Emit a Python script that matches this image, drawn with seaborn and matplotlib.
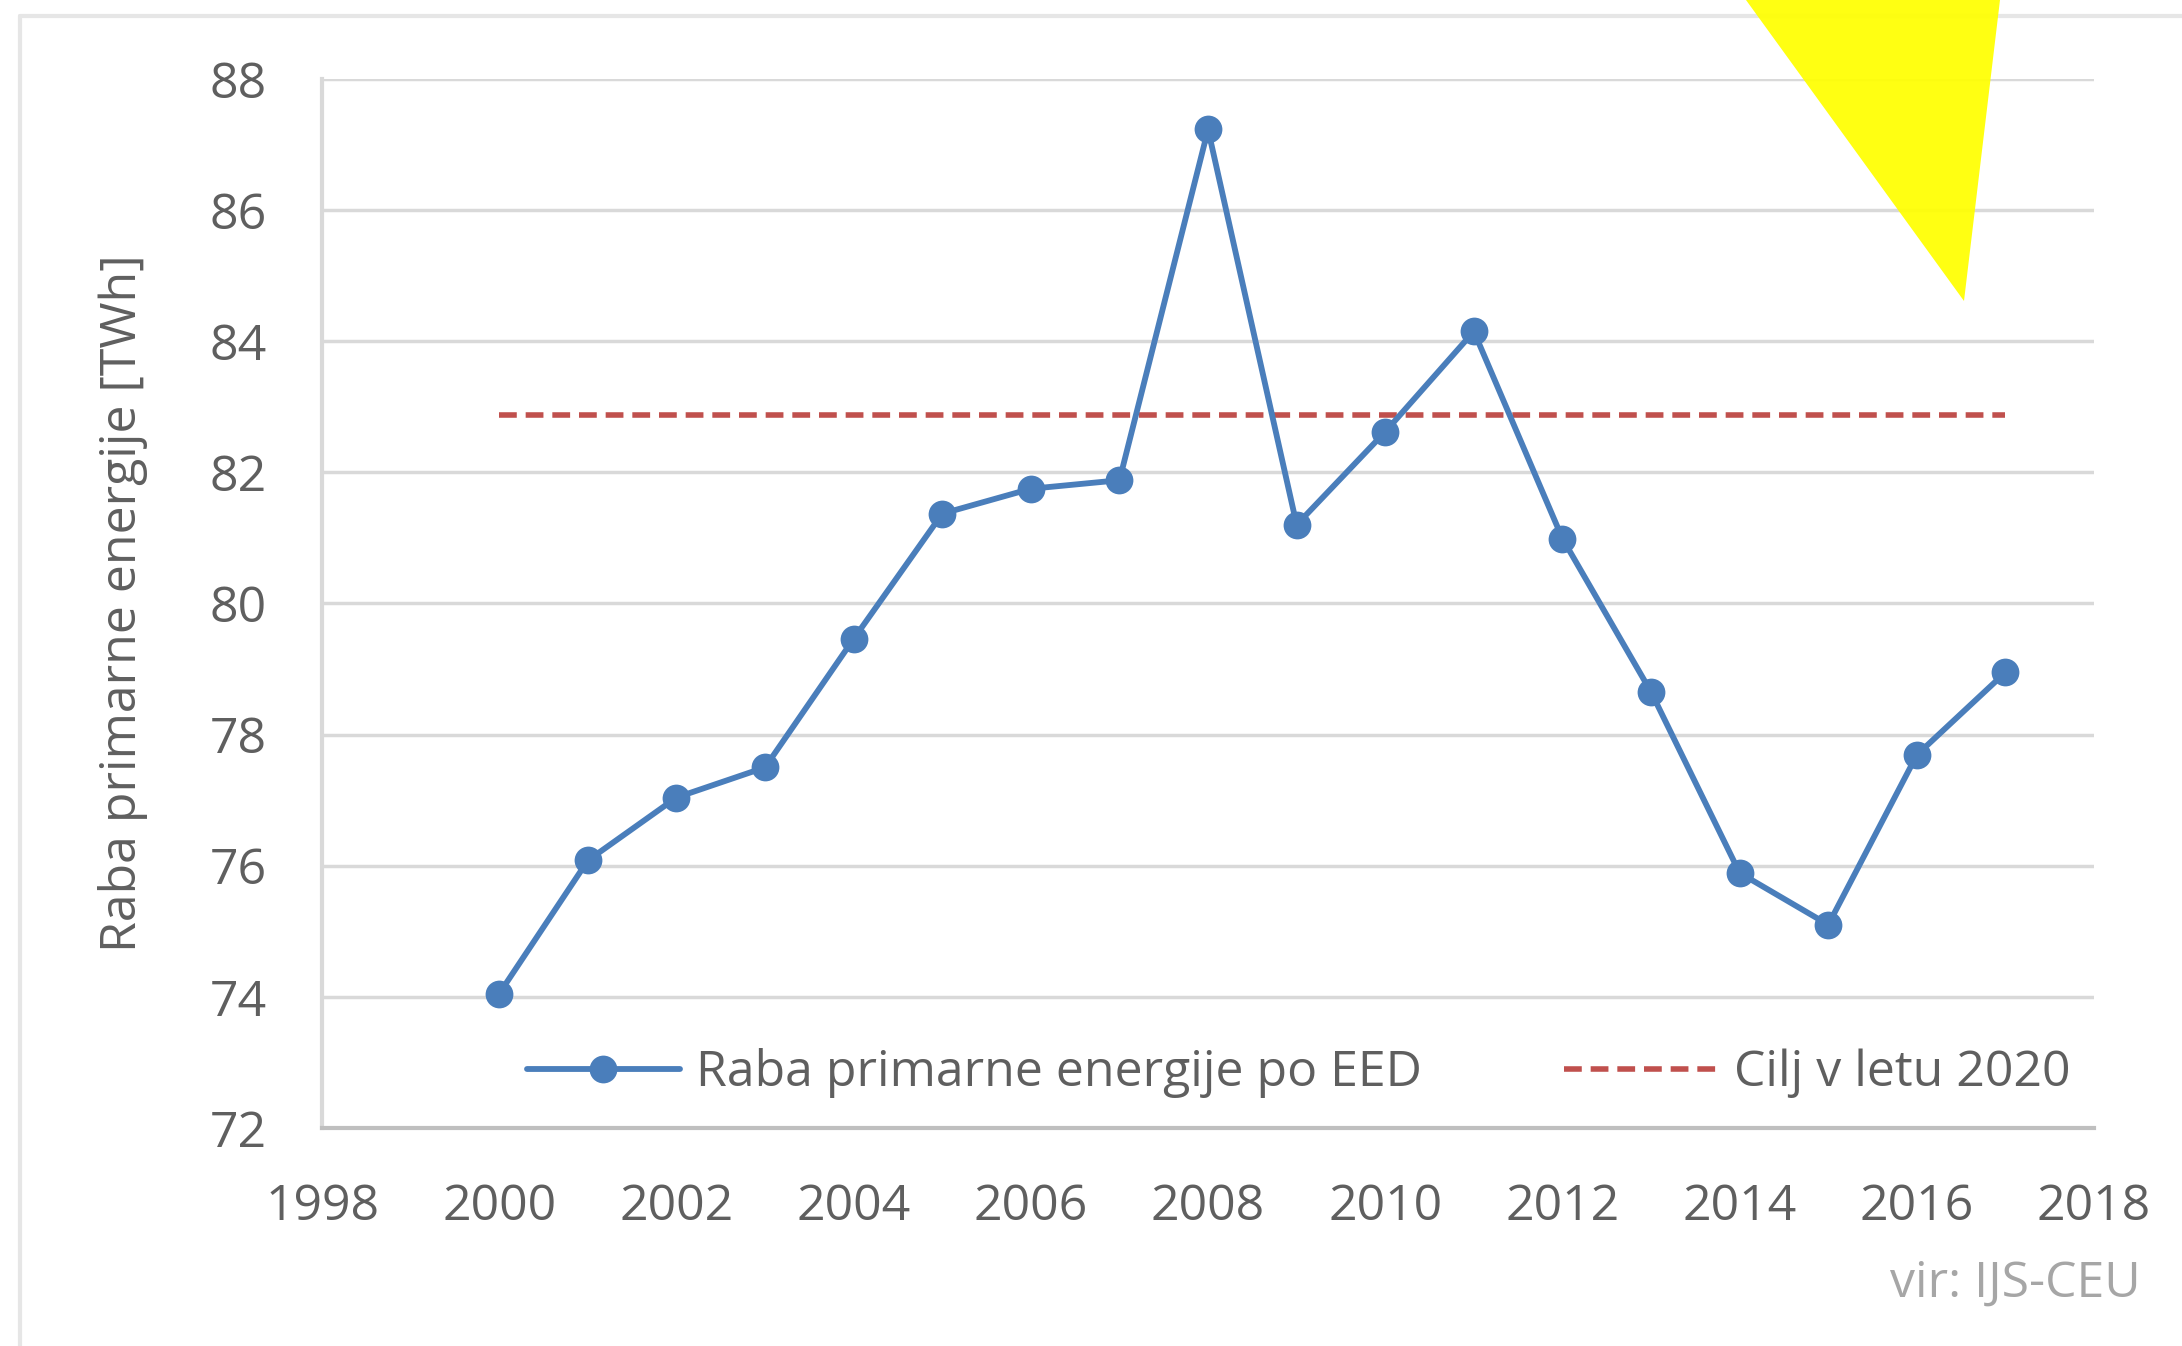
"""
plot.py
Primary energy use in Slovenia (EED) against the 2020 target.
"""

import pandas as pd
import matplotlib.pyplot as plt
from matplotlib.patches import Polygon
import seaborn as sns

# ---------------------------------------------------------
# Data
# ---------------------------------------------------------
years = [2000, 2001, 2002, 2003, 2004, 2005, 2006, 2007, 2008,
         2009, 2010, 2011, 2012, 2013, 2014, 2015, 2016, 2017]
energy_twh = [74.05, 76.08, 77.04, 77.50, 79.46, 81.37, 81.75, 81.88, 87.23,
              81.20, 82.62, 84.15, 80.99, 78.65, 75.89, 75.10, 77.69, 78.95]
target_years = [2000, 2017]
target_twh = [82.88, 82.88]

series_label = "Raba primarne energije po EED"
target_label = "Cilj v letu 2020"
y_label = "Raba primarne energije [TWh]"
source_text = "vir: IJS-CEU"

x_ticks = list(range(1998, 2019, 2))
y_ticks = list(range(72, 89, 2))

# ---------------------------------------------------------
# Style
# ---------------------------------------------------------
sns.set_style("white")
plt.rcParams["font.family"] = ["Open Sans", "DejaVu Sans"]

TEXT = "#5f5f5f"
GRID = "#d9d9d9"
BLUE = "#4a7ebb"
RED = "#c0504d"
FS = 36

df = pd.DataFrame({"year": years, "value": energy_twh})
df_target = pd.DataFrame({"year": target_years, "value": target_twh})

fig = plt.figure(figsize=(21.82, 13.46), dpi=100)
ax = fig.add_axes([0.1476, 0.162, 0.8121, 0.7793])

sns.lineplot(data=df_target, x="year", y="value", ax=ax, color=RED,
             linewidth=4, linestyle=(0, (3.2, 1.6)), label=target_label)
sns.lineplot(data=df, x="year", y="value", ax=ax, color=BLUE,
             linewidth=4.2, marker="o", markersize=20, markeredgewidth=0,
             label=series_label)

ax.set_xlim(1998, 2018)
ax.set_ylim(72, 88)
ax.set_xticks(x_ticks)
ax.set_yticks(y_ticks)
ax.grid(axis="y", color=GRID, linewidth=2.5)
ax.set_axisbelow(True)

for side in ["top", "right"]:
    ax.spines[side].set_visible(False)
ax.spines["left"].set_color(GRID)
ax.spines["left"].set_linewidth(3)
ax.spines["bottom"].set_color("#bfbfbf")
ax.spines["bottom"].set_linewidth(3)

ax.tick_params(axis="x", direction="in", length=14, width=1.5,
               color="#d0d0d0", labelsize=FS, labelcolor=TEXT, pad=39)
ax.tick_params(axis="y", length=0, labelsize=FS, labelcolor=TEXT, pad=40)

ax.set_xlabel("")
ax.set_ylabel(y_label, fontsize=FS, color=TEXT, labelpad=44)

# legend: series first, target second
handles, labels = ax.get_legend_handles_labels()
leg = ax.legend([handles[1], handles[0]], [labels[1], labels[0]],
                loc="center", bbox_to_anchor=(0.551, 0.052), ncol=2,
                frameon=False, fontsize=FS, handlelength=3.06,
                handletextpad=0.33, columnspacing=2.84, labelcolor=TEXT)

fig.text(0.981, 0.046, source_text, ha="right", va="center",
         fontsize=FS, color="#a6a6a6")

# outer frame of the original chart area
fig.add_artist(plt.Line2D([0.0092, 0.0092], [0.0, 0.988],
                          transform=fig.transFigure, color="#e6e6e6", lw=3))
fig.add_artist(plt.Line2D([0.0092, 1.0], [0.988, 0.988],
                          transform=fig.transFigure, color="#e6e6e6", lw=3))

# yellow triangle over the top right corner
tri = Polygon([[1746 / 2182, 1.0], [2000 / 2182, 1.0],
               [1964 / 2182, 1 - 301 / 1346]],
              closed=True, transform=fig.transFigure,
              facecolor="#ffff00", alpha=0.93, edgecolor="none", zorder=10)
fig.add_artist(tri)

plt.savefig("out.png", dpi=100)
plt.close()
